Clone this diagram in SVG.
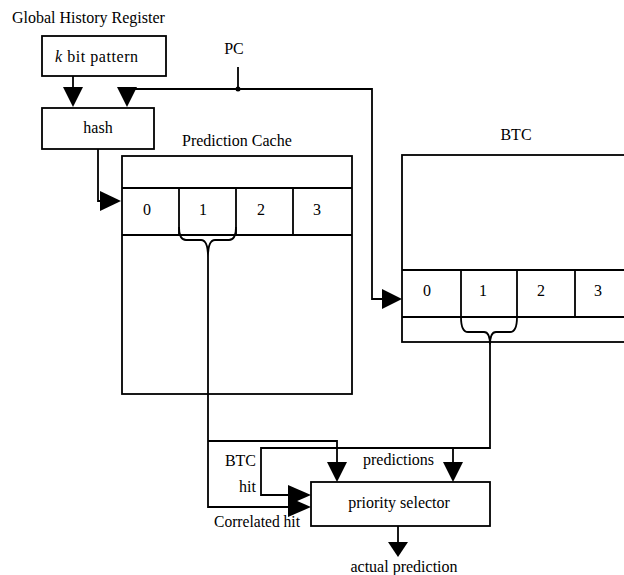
<svg xmlns="http://www.w3.org/2000/svg" width="624" height="575" viewBox="0 0 624 575">
<defs>
<style>
.box{fill:none;stroke:#000;stroke-width:1.8}
.ln{fill:none;stroke:#000;stroke-width:1.8}
.ah{fill:#000;stroke:none}
text{font-family:"Liberation Serif","Times New Roman",serif;font-size:16px;fill:#000}
.c{text-anchor:middle}
</style>
</defs>
<rect width="624" height="575" fill="#fff"/>
<text x="12" y="23">Global History Register</text>
<g id="kbit">
<rect class="box" x="42" y="36" width="124" height="40"/>
<text x="55" y="62" textLength="83" lengthAdjust="spacing"><tspan font-style="italic">k</tspan> bit pattern</text>
</g>
<text class="c" x="234" y="54">PC</text>
<g id="hash">
<rect class="box" x="42" y="108" width="112" height="41"/>
<text class="c" x="98" y="133">hash</text>
</g>
<g id="predcache">
<text x="182" y="146">Prediction Cache</text>
<rect class="box" x="122" y="156" width="230" height="238"/>
<path class="ln" d="M122,188 H352 M122,235 H352 M179,188 V235 M236,188 V235 M293,188 V235"/>
<text class="c" x="147" y="215">0</text>
<text class="c" x="203" y="215">1</text>
<text class="c" x="261" y="215">2</text>
<text class="c" x="317" y="215">3</text>
</g>
<g id="btc">
<text class="c" x="516" y="140">BTC</text>
<rect class="box" x="402" y="155" width="240" height="187"/>
<path class="ln" d="M402,270 H640 M402,317 H640 M461,270 V317 M517,270 V317 M575,270 V317"/>
<text class="c" x="427" y="296">0</text>
<text class="c" x="483" y="296">1</text>
<text class="c" x="541" y="296">2</text>
<text class="c" x="598" y="296">3</text>
</g>
<g id="selector">
<rect class="box" x="311" y="482" width="179" height="44"/>
<text class="c" x="399" y="508">priority selector</text>
</g>
<g id="labels">
<text x="256" y="466" text-anchor="end">BTC</text>
<text x="256" y="492" text-anchor="end">hit</text>
<text x="363" y="465">predictions</text>
<text x="214" y="527" textLength="86" lengthAdjust="spacingAndGlyphs">Correlated hit</text>
<text class="c" x="404" y="572">actual prediction</text>
</g>
<g id="connectors">
<path class="ln" d="M73,76 V88"/>
<polygon class="ah" points="63,87 83,87 73,107"/>
<path class="ln" d="M238,67 V89 M127,89 H372 V299 H383"/>
<circle cx="238" cy="89" r="2.5" fill="#000"/>
<polygon class="ah" points="117,87 137,87 127,107"/>
<polygon class="ah" points="382,289 382,309 402,299"/>
<path class="ln" d="M98,149 V201 H101"/>
<polygon class="ah" points="100,191 100,211 121,201"/>
<path class="ln" d="M179,227 Q179,240 186,240 H201 Q208,240 208,257 Q208,240 215,240 H229 Q236,240 236,227"/>
<path class="ln" d="M208,257 V507 H289 M208,441 H337 V463"/>
<polygon class="ah" points="327,462 347,462 337,482"/>
<polygon class="ah" points="288,497 288,517 311,507"/>
<path class="ln" d="M461,317 Q461,332 468,332 H484 Q490,332 490,345 Q490,332 496,332 H510 Q517,332 517,317"/>
<path class="ln" d="M490,345 V448 H261 V495 H289 M453,448 V463"/>
<polygon class="ah" points="288,485 288,505 311,495"/>
<polygon class="ah" points="443,462 463,462 453,482"/>
<path class="ln" d="M398,526 V543"/>
<polygon class="ah" points="388,542 408,542 398,557"/>
</g>
</svg>
